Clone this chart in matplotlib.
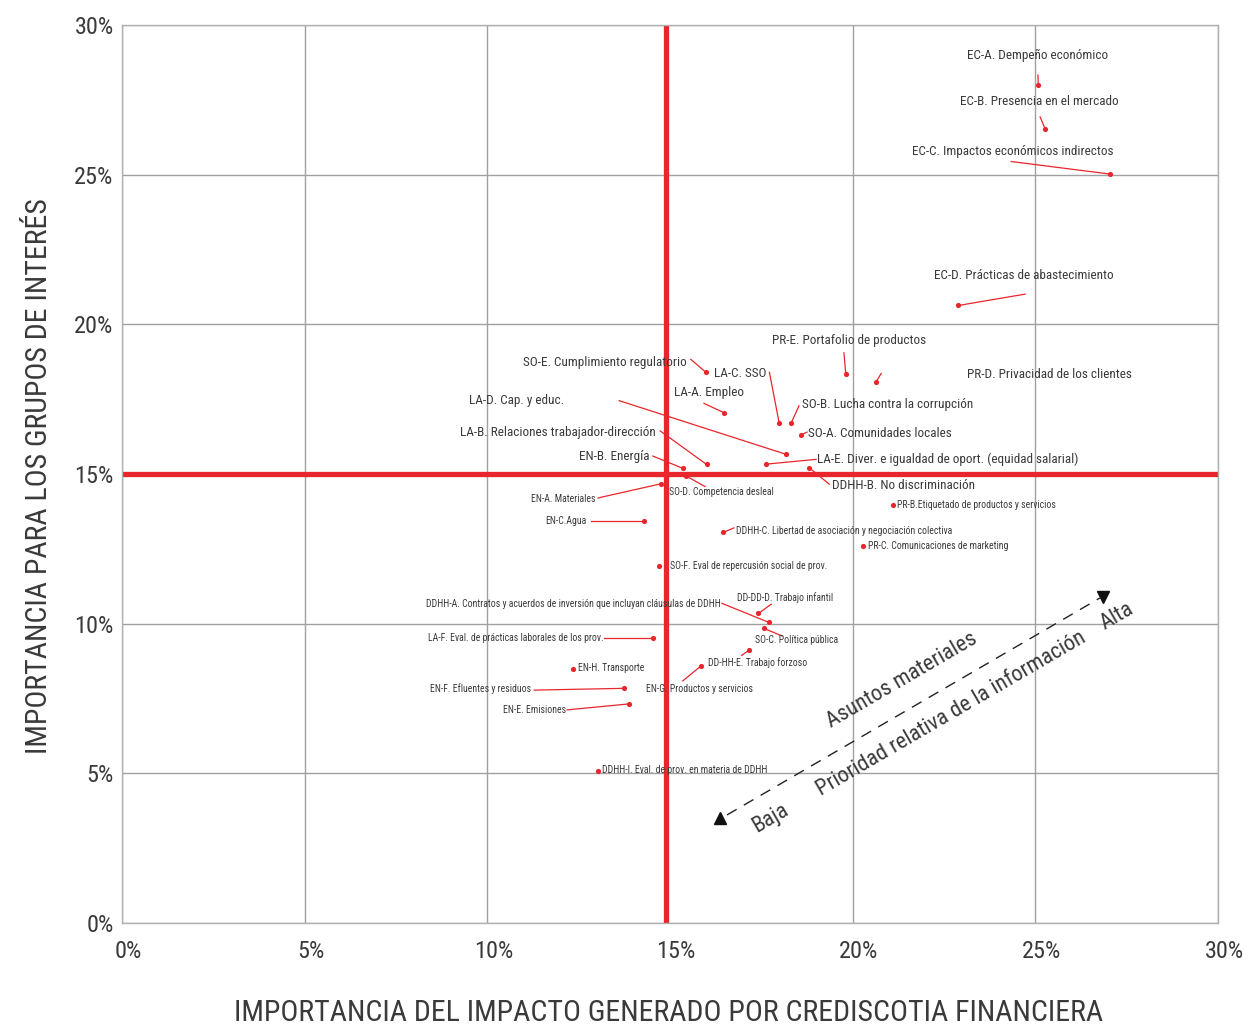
import matplotlib
matplotlib.use("Agg")
import matplotlib.pyplot as plt
from matplotlib import font_manager
from matplotlib.transforms import ScaledTranslation

# Pick a narrow sans family if one is installed
_names = {f.name for f in font_manager.fontManager.ttflist}
FONT = "DejaVu Sans"
for cand in ["Liberation Sans Narrow", "Roboto Condensed", "Open Sans Condensed", "Noto Sans"]:
    if cand in _names:
        FONT = cand
        break
plt.rcParams["font.family"] = [FONT, "DejaVu Sans"]

RED = "#E8262B"
TXT = "#3a3a3a"

# Material topics: impact importance (x, %) and stakeholder importance (y, %)
codes = ["EC-A. Dempeño económico", "EC-B. Presencia en el mercado",
         "EC-C. Impactos económicos indirectos", "EC-D. Prácticas de abastecimiento",
         "PR-E. Portafolio de productos", "PR-D. Privacidad de los clientes",
         "SO-E. Cumplimiento regulatorio", "LA-C. SSO",
         "SO-B. Lucha contra la corrupción", "SO-A. Comunidades locales",
         "LA-A. Empleo", "LA-D. Cap. y educ.",
         "LA-B. Relaciones trabajador-dirección", "EN-B. Energía",
         "LA-E. Diver. e igualdad de oport. (equidad salarial)", "DDHH-B. No discriminación",
         "SO-D. Competencia desleal", "EN-A. Materiales", "EN-C.Agua",
         "SO-F. Eval de repercusión social de prov.",
         "PR-B.Etiquetado de productos y servicios",
         "DDHH-C. Libertad de asociación y negociación colectiva",
         "PR-C. Comunicaciones de marketing",
         "DDHH-A. Contratos y acuerdos de inversión que incluyan cláusulas de DDHH",
         "DD-DD-D. Trabajo infantil", "SO-C. Política pública",
         "DD-HH-E. Trabajo forzoso", "EN-G. Productos y servicios",
         "LA-F. Eval. de prácticas laborales de los prov.", "EN-H. Transporte",
         "EN-F. Efluentes y residuos", "EN-E. Emisiones",
         "DDHH-I. Eval. de prov. en materia de DDHH"]

impact = [25.08, 25.27, 27.05, 22.89, 19.81, 20.63, 15.98, 17.99, 18.31, 18.59,
          16.49, 18.17, 16.00, 15.35, 17.63, 18.81, 15.43, 14.74, 14.30, 14.71,
          21.09, 16.46, 20.28, 17.71, 17.42, 17.57, 17.17, 15.85, 14.54, 12.35,
          13.75, 13.88, 13.04]

stakeholder = [28.00, 26.52, 25.02, 20.63, 18.34, 18.06, 18.40, 16.69, 16.69, 16.31,
               17.04, 15.66, 15.32, 15.19, 15.33, 15.21, 14.94, 14.67, 13.43, 11.93,
               13.98, 13.05, 12.58, 10.04, 10.34, 9.84, 9.12, 8.59, 9.52, 8.47,
               7.84, 7.32, 5.08]

x_ticks = [0, 5, 10, 15, 20, 25, 30]
y_ticks = [0, 5, 10, 15, 20, 25, 30]
impact_cut = 14.9
stakeholder_cut = 15.0

# Label layout: text anchor (x, y), horizontal alignment, font size, leader tail (or None)
layout = [
    ((25.05, 29.00), "center", 9.5, (25.07, 28.33)),
    ((25.10, 27.43), "center", 9.5, (25.13, 26.93)),
    ((24.39, 25.76), "center", 9.5, (24.34, 25.44)),
    ((24.69, 21.62), "center", 9.5, (24.72, 21.01)),
    ((19.90, 19.45), "center", 9.5, (19.76, 19.05)),
    ((25.38, 18.34), "center", 9.5, (20.78, 18.36)),
    ((15.46, 18.73), "right", 9.5, (15.57, 18.83)),
    ((17.65, 18.35), "right", 9.5, (17.72, 18.40)),
    ((18.61, 17.32), "left", 9.5, (18.53, 17.28)),
    ((18.78, 16.34), "left", 9.5, (18.75, 16.40)),
    ((16.07, 17.71), "center", 9.5, (15.93, 17.36)),
    ((10.79, 17.44), "center", 9.5, (13.61, 17.45)),
    ((14.62, 16.40), "right", 9.5, (14.73, 16.44)),
    ((14.45, 15.60), "right", 9.5, (14.53, 15.60)),
    ((19.03, 15.50), "left", 9.5, (19.00, 15.49)),
    ((19.44, 14.63), "left", 9.5, (19.36, 14.66)),
    ((14.97, 14.40), "left", 7, (15.96, 14.58)),
    ((12.95, 14.17), "right", 7, (13.03, 14.20)),
    ((12.72, 13.43), "right", 7, (12.84, 13.43)),
    ((15.00, 11.93), "left", 7, None),
    ((21.22, 13.97), "left", 7, None),
    ((16.81, 13.10), "left", 7, (16.75, 13.20)),
    ((20.42, 12.60), "left", 7, None),
    ((16.40, 10.66), "right", 7, (16.42, 10.68)),
    ((18.15, 10.86), "center", 7, (17.77, 10.65)),
    ((17.33, 9.46), "left", 7, (18.07, 9.59)),
    ((16.04, 8.69), "left", 7, (16.96, 8.94)),
    ((14.34, 7.82), "left", 7, (15.35, 8.09)),
    ((13.17, 9.52), "right", 7, (13.19, 9.52)),
    ((12.48, 8.52), "left", 7, None),
    ((11.20, 7.82), "right", 7, (11.28, 7.78)),
    ((12.15, 7.12), "right", 7, (12.18, 7.12)),
    ((13.14, 5.11), "left", 7, None),
]

fig = plt.figure(figsize=(12.49, 10.26), dpi=100)
ax = fig.add_axes([0.0977, 0.1004, 0.8775, 0.8752])
ax.set_xlim(0, 30)
ax.set_ylim(0, 30)

ax.set_xticks(x_ticks)
ax.set_yticks(y_ticks)
ax.set_xticklabels([f"{t}%" for t in x_ticks])
ax.set_yticklabels([f"{t}%" for t in y_ticks])
ax.tick_params(length=0, labelsize=17.5, colors=TXT)
ax.tick_params(axis="x", pad=12)
ax.tick_params(axis="y", pad=6)
shift = ScaledTranslation(6 / 100, 0, fig.dpi_scale_trans)
for lbl in ax.get_xticklabels():
    lbl.set_transform(lbl.get_transform() + shift)

ax.grid(True, color="#a0a0a0", linewidth=1.0)
ax.set_axisbelow(True)
# the red quadrant line replaces the 15% vertical gridline
ax.get_xgridlines()[x_ticks.index(15)].set_visible(False)
for s in ax.spines.values():
    s.set_color("#b0b0b0")
    s.set_linewidth(1.0)

# Quadrant threshold lines
ax.axvline(impact_cut, color=RED, linewidth=3.8, zorder=2)
ax.axhline(stakeholder_cut, color=RED, linewidth=3.8, zorder=2)

# Leaders and labels
for name, px, py, (txy, ha, fs, tail) in zip(codes, impact, stakeholder, layout):
    if tail is not None:
        ax.plot([tail[0], px], [tail[1], py], color=RED, linewidth=0.9, zorder=3)
    ax.text(txy[0], txy[1], name, ha=ha, va="center", fontsize=fs, color=TXT, zorder=4)

ax.scatter(impact, stakeholder, s=14, color=RED, zorder=5, linewidths=0)

# Priority arrow
ax.plot([16.56, 26.77], [3.61, 10.86], color="#222222", linewidth=1.0,
        dashes=(8, 6), zorder=3)
ax.plot([16.37], [3.51], marker="^", color="#111111", markersize=8, zorder=4)
ax.plot([26.86], [10.89], marker="v", color="#111111", markersize=8, zorder=4)
ax.text(21.34, 8.12, "Asuntos materiales", rotation=30.2, rotation_mode="anchor",
        ha="center", va="center", fontsize=16, color=TXT)
ax.text(22.71, 7.00, "Prioridad relativa de la información", rotation=30.2,
        rotation_mode="anchor", ha="center", va="center", fontsize=16, color=TXT)
ax.text(17.74, 3.50, "Baja", rotation=30.2, rotation_mode="anchor",
        ha="center", va="center", fontsize=16, color=TXT)
ax.text(27.23, 10.23, "Alta", rotation=30.2, rotation_mode="anchor",
        ha="center", va="center", fontsize=16, color=TXT)

fig.text(0.535, 0.013, "IMPORTANCIA DEL IMPACTO GENERADO POR CREDISCOTIA FINANCIERA",
         ha="center", va="center", fontsize=21.5, color=TXT)
fig.text(0.031, 0.536, "IMPORTANCIA PARA LOS GRUPOS DE INTERÉS", rotation=90,
         ha="center", va="center", fontsize=21.5, color=TXT)

fig.savefig("out.png", dpi=100)
